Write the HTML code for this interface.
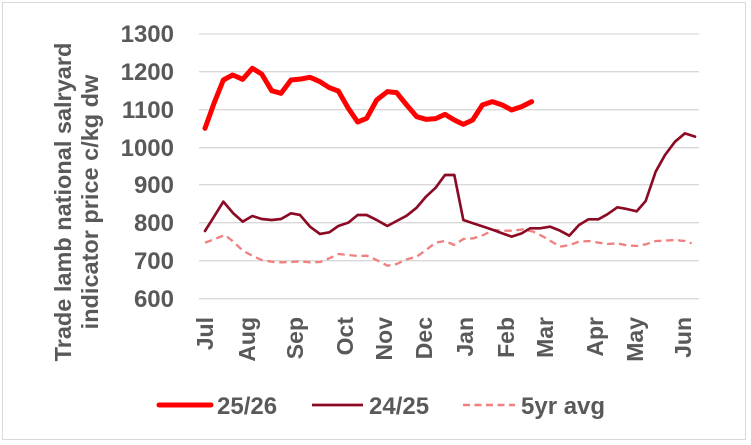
<!DOCTYPE html>
<html><head><meta charset="utf-8"><style>
html,body{margin:0;padding:0;background:#fff}
svg{display:block}
text{font-family:"Liberation Sans",sans-serif;font-weight:bold;fill:#595959}
</style></head><body>
<svg width="751" height="445" viewBox="0 0 751 445">
<rect x="2.5" y="2.5" width="743" height="437" fill="#fff" stroke="#d9d9d9"/>
<g stroke="#d9d9d9" stroke-width="1.3">
<line x1="199" x2="699" y1="34" y2="34"/><line x1="199" x2="699" y1="71.7" y2="71.7"/>
<line x1="199" x2="699" y1="109.7" y2="109.7"/><line x1="199" x2="699" y1="147.7" y2="147.7"/>
<line x1="199" x2="699" y1="184.7" y2="184.7"/><line x1="199" x2="699" y1="222.7" y2="222.7"/>
<line x1="199" x2="699" y1="260.7" y2="260.7"/><line x1="199" x2="699" y1="298.7" y2="298.7"/>
</g>
<g font-size="24" text-anchor="end">
<text x="174" y="42">1300</text><text x="174" y="80">1200</text><text x="174" y="118">1100</text>
<text x="174" y="156">1000</text><text x="174" y="193">900</text><text x="174" y="231">800</text>
<text x="174" y="269">700</text><text x="174" y="307">600</text>
</g>
<g font-size="23" text-anchor="end">
<text transform="translate(213,317) rotate(-90)">Jul</text>
<text transform="translate(255,317) rotate(-90)">Aug</text>
<text transform="translate(303,317) rotate(-90)">Sep</text>
<text transform="translate(353,317) rotate(-90)">Oct</text>
<text transform="translate(392,317) rotate(-90)">Nov</text>
<text transform="translate(432,317) rotate(-90)">Dec</text>
<text transform="translate(473,317) rotate(-90)">Jan</text>
<text transform="translate(514,317) rotate(-90)">Feb</text>
<text transform="translate(553,317) rotate(-90)">Mar</text>
<text transform="translate(603,317) rotate(-90)">Apr</text>
<text transform="translate(643,317) rotate(-90)">May</text>
<text transform="translate(691,317) rotate(-90)">Jun</text>
</g>
<g font-size="23.5" text-anchor="middle">
<text transform="translate(71,202) rotate(-90)">Trade lamb national salryard</text>
<text transform="translate(98,202) rotate(-90)">indicator price c/kg dw</text>
</g>
<g transform="translate(190,20) scale(0.33333)" fill="none" stroke-linejoin="round" stroke-linecap="round">
<polyline stroke="#f08080" stroke-width="7" stroke-dasharray="22,14" stroke-linecap="butt" points="45,668 72,658 105,645 130,665 158,692 187,707 215,720 245,725 273,727 303,726 330,724 360,727 390,726 418,715 445,702 475,705 503,708 530,707 560,720 592,737 620,732 650,718 680,710 708,690 737,668 765,663 793,675 820,657 850,655 880,645 910,630 940,632 970,632 1000,628 1030,635 1060,650 1085,665 1110,680 1140,675 1167,665 1195,663 1225,668 1252,672 1282,670 1310,676 1340,678 1367,673 1397,663 1425,662 1455,660 1485,663 1505,670"/>
<polyline stroke="#8b0a24" stroke-width="8" points="45,633 72,590 100,545 130,580 158,605 187,588 215,597 245,600 273,597 303,580 330,585 360,620 390,642 418,637 445,618 475,608 503,585 530,585 560,600 592,618 620,603 650,587 680,563 708,530 737,503 765,465 793,465 820,600 850,610 880,620 910,630 937,640 965,650 995,640 1020,625 1050,625 1080,620 1110,632 1138,647 1167,615 1195,598 1225,598 1252,583 1282,562 1310,567 1340,574 1367,543 1397,455 1425,405 1455,365 1485,340 1515,350"/>
<polyline stroke="#ff0000" stroke-width="15" points="45,325 72,250 100,180 128,165 158,178 187,145 215,162 245,212 273,220 303,180 333,177 360,172 390,185 418,203 445,213 475,265 503,306 530,295 560,240 592,215 620,218 650,255 680,290 708,298 737,296 765,283 793,300 820,313 848,300 877,255 907,245 937,255 965,270 995,260 1025,245"/>
</g>
<line x1="159" x2="211" y1="405" y2="405" stroke="#ff0000" stroke-width="5" stroke-linecap="round"/>
<text x="217" y="414" font-size="24">25/26</text>
<line x1="312" x2="363" y1="405" y2="405" stroke="#8b0a24" stroke-width="2.7"/>
<text x="369" y="414" font-size="24">24/25</text>
<line x1="463" x2="515" y1="405" y2="405" stroke="#f08080" stroke-width="2.5" stroke-dasharray="7,4.5"/>
<text x="521" y="414" font-size="24">5yr avg</text>
</svg>
</body></html>
